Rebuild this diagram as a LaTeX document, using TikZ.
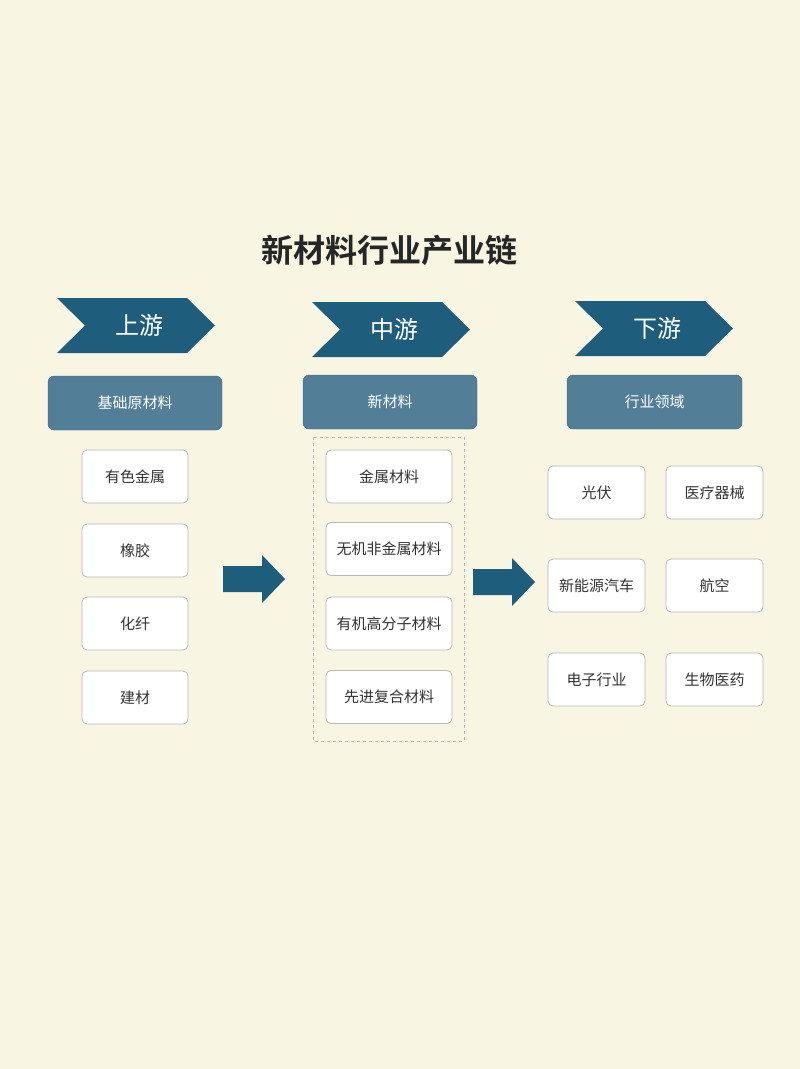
\documentclass[tikz,border=0pt]{standalone}
\usepackage{fontspec}
\setmainfont{Noto Sans CJK SC}
\newfontfamily\cjkb{Noto Sans CJK SC Bold}
\definecolor{bg}{HTML}{F8F5E3}
\definecolor{dteal}{HTML}{1E5E7C}
\definecolor{lteal}{HTML}{527F97}
\definecolor{bord}{HTML}{B8B8B8}
\begin{document}
\begin{tikzpicture}[x=1pt,y=-1pt,
 wbox/.style={draw=bord,fill=white,rounded corners=5pt,line width=0.8pt,font=\fontsize{15}{18}\selectfont,text=black!80},
 hbox/.style={fill=lteal,draw=lteal!80!black,rounded corners=6pt,font=\fontsize{15}{18}\selectfont,text=white},
 chev/.style={fill=dteal},
 ctext/.style={text=white,font=\fontsize{24}{28}\selectfont},
 barrow/.style={fill=dteal}]
\fill[bg] (0,0) rectangle (800,1069);
\useasboundingbox (0,0) rectangle (800,1069);
\node[font=\cjkb\fontsize{32}{36}\selectfont,text=black!85] (title) at (389,250) {新材料行业产业链};
% chevrons
\foreach \x/\y/\t/\n in {57/298/上游/c1,312/302/中游/c2,575/301/下游/c3}{
  \fill[chev] (\x,\y) -- ++(130,0) -- ++(28,27.5) -- ++(-28,27.5) -- ++(-130,0) -- ++(28,-27.5) -- cycle;
  \node[ctext] (\n) at (\x+82,\y+27.5) {\t};
}
\node[hbox,minimum width=174pt,minimum height=54pt] (h1) at (135,403) {基础原材料};
\node[hbox,minimum width=174pt,minimum height=54pt] (h2) at (390,402) {新材料};
\node[hbox,minimum width=175pt,minimum height=54pt] (h3) at (654.5,402) {行业领域};
% left
\foreach \y/\t/\n in {476.5/有色金属/l1,550.5/橡胶/l2,623.5/化纤/l3,697.5/建材/l4}
  \node[wbox,minimum width=106pt,minimum height=53pt] (\n) at (135,\y) {\t};
% middle
\draw[bord,dashed,line width=0.6pt] (313,437) rectangle (464,741);
\foreach \y/\t/\n in {476.5/金属材料/m1,549/无机非金属材料/m2,623.5/有机高分子材料/m3,697/先进复合材料/m4}
  \node[wbox,minimum width=126pt,minimum height=53pt] (\n) at (389,\y) {\t};
% right
\foreach \y/\a/\b/\n in {492.5/光伏/医疗器械/1,585.5/新能源汽车/航空/2,679.5/电子行业/生物医药/3}{
  \node[wbox,minimum width=97pt,minimum height=53pt] (ra\n) at (596.5,\y) {\a};
  \node[wbox,minimum width=97pt,minimum height=53pt] (rb\n) at (714.5,\y) {\b};
}
% arrows
\fill[barrow] (223,566) -- (262,566) -- (262,555) -- (285,579) -- (262,603) -- (262,592) -- (223,592) -- cycle;
\fill[barrow] (473,569) -- (512,569) -- (512,558) -- (535,582) -- (512,606) -- (512,595) -- (473,595) -- cycle;
\end{tikzpicture}
\end{document}
